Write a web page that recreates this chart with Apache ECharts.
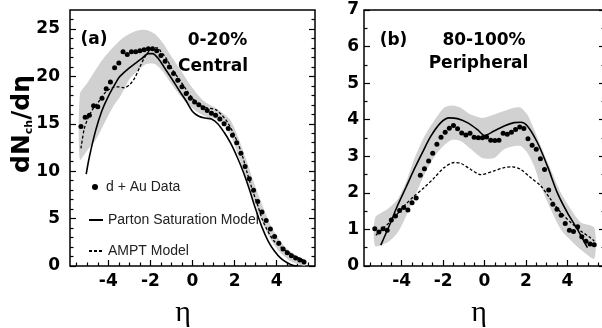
<!DOCTYPE html>
<html><head><meta charset="utf-8">
<script src="https://cdn.jsdelivr.net/npm/echarts@6/dist/echarts.min.js"></script>
<style>html,body{margin:0;padding:0;background:#fff}#c{width:602px;height:328px}</style>
</head><body><div id="c"></div>
<script>
// ---------- tick values ----------
const etaTicks = [-4, -2, 0, 2, 4];
const etaMinor = [-5.5, -5, -4.5, -3.5, -3, -2.5, -1.5, -1, -0.5, 0.5, 1, 1.5, 2.5, 3, 3.5, 4.5, 5, 5.5];
const yTicksA = [0, 5, 10, 15, 20, 25];
const yMinorA = [1, 2, 3, 4, 6, 7, 8, 9, 11, 12, 13, 14, 16, 17, 18, 19, 21, 22, 23, 24, 26];
const yTicksB = [0, 1, 2, 3, 4, 5, 6, 7];
const yMinorB = [0.5, 1.5, 2.5, 3.5, 4.5, 5.5, 6.5];

// ---------- panel (a) 0-20% central ----------
const dataEtaA = [-5.3,-5.1,-4.9,-4.7,-4.5,-4.3,-4.1,-3.9,-3.7,-3.5,-3.3,-3.1,-2.9,-2.7,-2.5,-2.3,-2.1,-1.9,-1.7,-1.5,-1.3,-1.1,-0.9,-0.7,-0.5,-0.3,-0.1,0.1,0.3,0.5,0.7,0.9,1.1,1.3,1.5,1.7,1.9,2.1,2.3,2.5,2.7,2.9,3.1,3.3,3.5,3.7,3.9,4.1,4.3,4.5,4.7,4.9,5.1,5.3];
const dataA = [14.7,15.7,15.9,16.9,16.8,17.7,18.7,19.4,20.9,21.4,22.6,22.3,22.6,22.6,22.7,22.8,22.9,22.9,22.7,22.2,21.6,21.0,20.3,19.6,18.9,18.2,17.7,17.3,17.0,16.7,16.4,16.1,15.9,15.5,15.0,14.5,13.8,13.0,11.9,10.5,9.2,8.0,6.8,5.7,4.8,3.9,3.1,2.4,1.8,1.4,1.08,0.85,0.62,0.42];
const partonEtaA = [-5.05,-4.9,-4.6,-4.3,-4.0,-3.6,-3.45,-3.0,-2.7,-2.4,-2.1,-1.9,-1.6,-1.3,-1.0,-0.6,-0.3,0,0.3,0.6,0.9,1.2,1.5,1.8,2.1,2.4,2.7,3.0,3.3,3.6,3.9,4.2,4.5,4.8,5.0];
const partonA = [9.7,11.5,14.3,16.4,17.9,19.5,20.0,20.9,21.4,21.9,22.4,22.4,21.8,20.8,19.8,18.4,17.4,16.3,15.8,15.6,15.5,15.0,14.1,13.0,11.6,10.0,8.1,6.0,4.1,2.6,1.55,0.8,0.35,0.05,0];
const amptEtaA = [-5.3,-5.15,-5.0,-4.75,-4.4,-4.1,-3.8,-3.5,-3.25,-3.0,-2.75,-2.5,-2.3,-2.05,-1.8,-1.65,-1.5,-1.25,-0.95,-0.6,-0.3,0,0.3,0.65,1.1,1.4,1.65,1.9,2.15,2.4,2.6,2.85,3.1,3.3,3.55,3.85,4.2,4.5,4.8,5.15,5.4];
const amptA = [12.4,14.4,15.4,16.5,17.5,18.4,18.8,18.9,18.8,19.1,19.8,21.0,21.9,22.7,23.0,23.0,22.6,21.9,20.7,19.6,18.6,17.7,17.0,16.7,16.5,15.9,15.2,14.2,13.0,11.4,9.8,8.0,6.4,5.0,3.8,2.7,2.0,1.5,1.1,0.74,0.46];
const bandEtaA = [-5.35,-5.0,-4.6,-4.2,-3.8,-3.4,-3.0,-2.6,-2.2,-1.8,-1.4,-1.0,-0.6,-0.2,0.2,0.6,1.0,1.4,1.8,2.2,2.6,2.9,3.2,3.5,3.8,4.1,4.4,4.7,5.0,5.35];
const bandHiA = [18.1,19.3,20.7,22.0,23.0,23.9,24.5,24.85,24.9,24.5,23.5,22.1,20.8,19.4,18.2,17.3,16.8,16.2,15.4,13.4,10.9,8.9,7.1,5.4,3.9,2.85,2.0,1.45,1.0,0.63];
const bandLoA = [11.2,12.2,13.3,15.0,16.7,18.0,19.7,20.6,21.3,21.3,20.5,19.2,18.0,17.0,16.3,15.8,15.6,15.0,13.8,11.5,8.9,7.1,5.3,3.7,2.5,1.55,0.95,0.45,0.22,0.05];

// ---------- panel (b) 80-100% peripheral ----------
const dataEtaB = dataEtaA;
const dataB = [1.02,0.93,1.02,0.98,1.26,1.37,1.52,1.6,1.53,1.73,1.86,2.48,2.66,2.87,3.08,3.33,3.52,3.66,3.77,3.84,3.75,3.64,3.58,3.63,3.52,3.51,3.51,3.53,3.44,3.43,3.44,3.63,3.6,3.66,3.73,3.8,3.76,3.48,3.3,3.19,2.93,2.64,2.08,1.69,1.55,1.39,1.16,0.98,0.94,1.07,0.8,0.68,0.6,0.58];
const partonEtaB = [-5.01,-4.6,-4.21,-3.8,-3.4,-3.0,-2.59,-2.11,-1.71,-1.31,-0.83,-0.34,0,0.46,0.95,1.43,1.75,2.07,2.56,3.04,3.52,4.0,4.49,4.97];
const partonB = [0.57,1.1,1.64,2.14,2.64,3.1,3.55,3.92,4.05,4.03,3.92,3.73,3.57,3.69,3.83,3.92,3.93,3.83,3.37,2.73,2.0,1.46,1.0,0.5];
const amptEtaB = [-5.25,-4.85,-4.37,-3.88,-3.4,-2.92,-2.43,-1.95,-1.47,-1.15,-0.66,-0.18,0.46,0.95,1.35,1.75,2.24,2.72,3.2,3.69,4.17,4.65,5.14,5.3];
const amptB = [0.84,1.05,1.32,1.64,1.91,2.14,2.41,2.69,2.83,2.81,2.64,2.5,2.6,2.69,2.71,2.64,2.41,2.19,1.82,1.46,1.19,0.96,0.76,0.68];
const bandEtaB = [-5.28,-4.7,-4.2,-3.8,-3.4,-2.9,-2.4,-1.95,-1.55,-1.15,-0.66,-0.1,0.46,0.95,1.45,1.75,2.07,2.4,2.72,3.2,3.69,4.17,4.65,5.3];
const bandHiB = [1.32,1.55,1.82,2.28,2.92,3.55,4.0,4.33,4.39,4.33,4.14,4.05,4.14,4.24,4.33,4.33,4.14,3.73,3.28,2.64,2.0,1.55,1.19,1.05];
const bandLoB = [0.55,0.64,0.91,1.35,1.85,2.5,3.0,3.3,3.45,3.42,3.2,2.95,2.95,3.19,3.28,3.28,3.1,2.73,2.19,1.55,1.0,0.7,0.45,0.2];

const legendNames = ['d + Au Data', 'Parton Saturation Model', 'AMPT Model'];

// ---------- helpers ----------
const zip = (xs, ys) => xs.map((x, i) => [x, ys[i]]);
const BOLD = 'DejaVu Sans';

function xAx(grid, ticks, len, labels) {
  return {
    type: 'value', gridIndex: grid, min: -5.82, max: 5.82, position: 'bottom',
    axisLine: { show: false, onZero: false }, splitLine: { show: false },
    axisTick: { show: true, inside: true, length: len, customValues: ticks, lineStyle: { color: '#000', width: 1.2 } },
    axisLabel: labels ? { show: true, customValues: ticks, margin: 7, fontFamily: BOLD, fontWeight: 'bold', fontSize: 17, color: '#000' } : { show: false }
  };
}
function yAx(grid, max, pos, ticks, len, labels, margin) {
  return {
    type: 'value', gridIndex: grid, min: 0, max: max, position: pos,
    axisLine: { show: false, onZero: false }, splitLine: { show: false },
    axisTick: { show: true, inside: true, length: len, customValues: ticks, lineStyle: { color: '#000', width: 1.2 } },
    axisLabel: labels ? { show: true, customValues: ticks, margin: margin, fontFamily: BOLD, fontWeight: 'bold', fontSize: 17, color: '#000' } : { show: false }
  };
}
function band(xi, yi, xs, lo, hi) {
  return {
    type: 'custom', xAxisIndex: xi, yAxisIndex: yi, silent: true, z: 1,
    data: [[xs[0], lo[0]]],
    renderItem: function (params, api) {
      const pts = [];
      for (let i = 0; i < xs.length; i++) pts.push(api.coord([xs[i], hi[i]]));
      for (let i = xs.length - 1; i >= 0; i--) pts.push(api.coord([xs[i], lo[i]]));
      return { type: 'polygon', shape: { points: pts, smooth: 0.25 }, style: { fill: '#d1d1d1', stroke: null } };
    }
  };
}
function dots(xi, yi, xs, ys) {
  return { name: legendNames[0], type: 'scatter', xAxisIndex: xi, yAxisIndex: yi, z: 5,
    data: zip(xs, ys), symbol: 'circle', symbolSize: 5, itemStyle: { color: '#000', opacity: 1 } };
}
function parton(xi, yi, xs, ys) {
  return { name: legendNames[1], type: 'line', xAxisIndex: xi, yAxisIndex: yi, z: 4, smooth: 0.3,
    showSymbol: false, symbol: 'none', data: zip(xs, ys), lineStyle: { color: '#000', width: 1.6 }, itemStyle: { color: '#000' } };
}
function ampt(xi, yi, xs, ys) {
  return { name: legendNames[2], type: 'line', xAxisIndex: xi, yAxisIndex: yi, z: 3, smooth: 0.3,
    showSymbol: false, symbol: 'none', data: zip(xs, ys), lineStyle: { color: '#000', width: 1.3, type: [3, 2] }, itemStyle: { color: '#000' } };
}
const legText = { fontFamily: 'Liberation Sans', fontSize: 14, color: '#222' };
function txt(x, y, text, font, extra) {
  return Object.assign({ type: 'text', x: x, y: y, silent: true, z: 100,
    style: { text: text, font: font, fill: '#000', align: 'center', verticalAlign: 'middle' } }, extra || {});
}

const chart = echarts.init(document.getElementById('c'), null, { renderer: 'canvas' });
chart.setOption({
  animation: false,
  backgroundColor: '#fff',
  grid: [
    { left: 70, top: 10, width: 245, height: 256, show: true, borderColor: '#000', borderWidth: 1.5, backgroundColor: 'transparent', outerBoundsMode: 'none', containLabel: false },
    { left: 364, top: 10, width: 241, height: 256, show: true, borderColor: '#000', borderWidth: 1.5, backgroundColor: 'transparent', outerBoundsMode: 'none', containLabel: false }
  ],
  xAxis: [
    xAx(0, etaTicks, 6, true), xAx(0, etaMinor, 3.5, false),
    xAx(1, etaTicks, 6, true), xAx(1, etaMinor, 3.5, false)
  ],
  yAxis: [
    yAx(0, 27, 'left', yTicksA, 6, true, 10), yAx(0, 27, 'left', yMinorA, 3.5, false),
    yAx(0, 27, 'right', yTicksA, 6, false), yAx(0, 27, 'right', yMinorA, 3.5, false),
    yAx(1, 7, 'left', yTicksB, 6, true, 5), yAx(1, 7, 'left', yMinorB, 3.5, false),
    yAx(1, 7, 'right', yTicksB, 6, false), yAx(1, 7, 'right', yMinorB, 3.5, false)
  ],
  legend: [
    { data: [{ name: legendNames[0], icon: 'circle', itemStyle: { color: '#000', opacity: 1 } }], left: 87, top: 175, itemWidth: 6, itemHeight: 6, selectedMode: false,
      textStyle: Object.assign({ padding: [0, 0, 0, 3] }, legText) },
    { data: [{ name: legendNames[1], itemStyle: { opacity: 0 } }], left: 83, top: 208, itemWidth: 14, itemHeight: 10, selectedMode: false, textStyle: legText },
    { data: [{ name: legendNames[2], itemStyle: { opacity: 0 } }], left: 83, top: 239, itemWidth: 14, itemHeight: 10, selectedMode: false, textStyle: legText }
  ],
  series: [
    band(0, 0, bandEtaA, bandLoA, bandHiA),
    ampt(0, 0, amptEtaA, amptA),
    parton(0, 0, partonEtaA, partonA),
    dots(0, 0, dataEtaA, dataA),
    band(2, 4, bandEtaB, bandLoB, bandHiB),
    ampt(2, 4, amptEtaB, amptB),
    parton(2, 4, partonEtaB, partonB),
    dots(2, 4, dataEtaB, dataB)
  ],
  graphic: [
    txt(20, 124, '', '', {
      rotation: Math.PI / 2,
      style: { text: '{a|dN}{s|ch}{a|/d}{e|η}', align: 'center', verticalAlign: 'middle', fill: '#000',
        rich: {
          a: { fontFamily: BOLD, fontWeight: 'bold', fontSize: 25, lineHeight: 30, verticalAlign: 'bottom', fill: '#000' },
          s: { fontFamily: BOLD, fontWeight: 'bold', fontSize: 11, lineHeight: 8, verticalAlign: 'bottom', fill: '#000' },
          e: { fontFamily: 'DejaVu Sans', fontWeight: 'bold', fontSize: 25, lineHeight: 30, verticalAlign: 'bottom', fill: '#000' }
        } }
    }),
    txt(183, 313, 'η', '30px Liberation Serif'),
    txt(479, 313, 'η', '30px Liberation Serif'),
    txt(94, 40, '(a)', 'bold 17px DejaVu Sans'),
    txt(217.5, 41, '0-20%', 'bold 17px DejaVu Sans'),
    txt(213, 67, 'Central', 'bold 17px DejaVu Sans'),
    txt(393.5, 41, '(b)', 'bold 17px DejaVu Sans'),
    txt(484, 41, '80-100%', 'bold 17px DejaVu Sans'),
    txt(478.5, 64, 'Peripheral', 'bold 17px DejaVu Sans')
  ]
});
</script>
</body></html>
